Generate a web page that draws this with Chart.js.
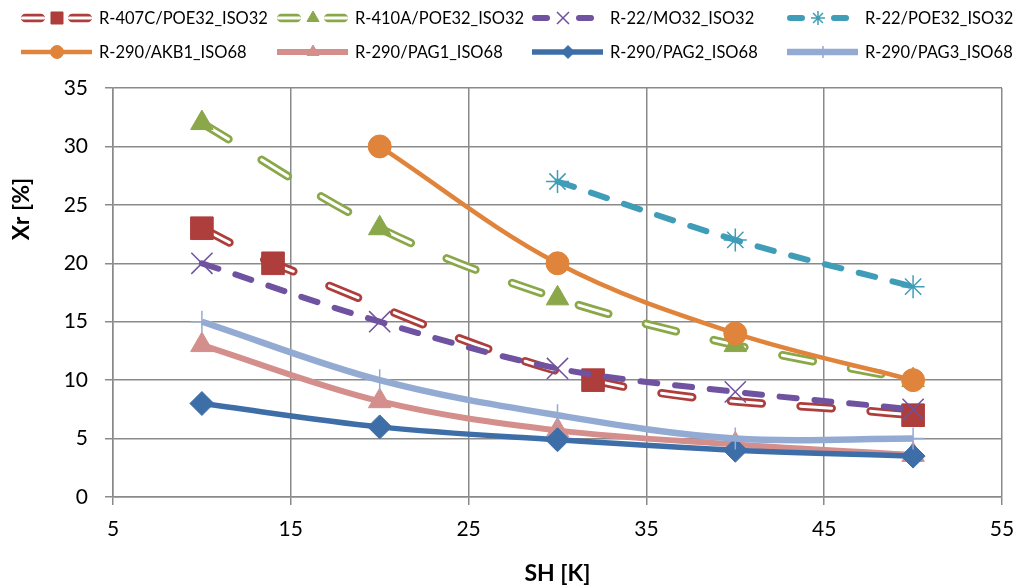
<!DOCTYPE html>
<html>
<head>
<meta charset="utf-8">
<script src="https://cdn.jsdelivr.net/npm/chart.js@4/dist/chart.umd.min.js"></script>
<style>
html,body{margin:0;padding:0;background:#ffffff;}
#wrap{width:1019px;height:588px;position:relative;}
</style>
</head>
<body>
<div id="wrap"><canvas id="c" width="1019" height="588"></canvas></div>
<script>
// ---- data ----
const seriesNames = [
  'R-407C/POE32_ISO32', 'R-410A/POE32_ISO32', 'R-22/MO32_ISO32', 'R-22/POE32_ISO32',
  'R-290/AKB1_ISO68', 'R-290/PAG1_ISO68', 'R-290/PAG2_ISO68', 'R-290/PAG3_ISO68'
];
const x407C = [10, 14, 32, 50];
const y407C = [23, 20, 10, 7];
const x410A = [10, 20, 30, 40, 50];
const y410A = [32, 23, 17, 13, 10];
const xMO32 = [10, 20, 30, 40, 50];
const yMO32 = [20, 15, 11, 9, 7.5];
const xPOE32 = [30, 40, 50];
const yPOE32 = [27, 22, 18];
const xAKB1 = [20, 30, 40, 50];
const yAKB1 = [30, 20, 14, 10];
const xR290 = [10, 20, 30, 40, 50];
const yPAG1 = [13, 8.2, 5.7, 4.5, 3.6];
const yPAG2 = [8, 6, 4.9, 4, 3.5];
const yPAG3 = [15, 10, 7, 5, 5];
const xTicks = [5, 15, 25, 35, 45, 55];
const yTicks = [0, 5, 10, 15, 20, 25, 30, 35];
const xTitle = 'SH [K]';
const yTitle = 'Xr [%]';

const seriesX = [x407C, x410A, xMO32, xPOE32, xAKB1, xR290, xR290, xR290];
const seriesY = [y407C, y410A, yMO32, yPOE32, yAKB1, yPAG1, yPAG2, yPAG3];

// ---- styles ----
const styles = [
  {color:'#AD3E3C', kind:'compound', width:8.5, inner:3, marker:'rect', r:16, lr:8.5, bw:1},
  {color:'#8AA84A', kind:'compound', width:8.5, inner:3, marker:'triangle', r:13, lr:7, bw:1},
  {color:'#6F52A0', kind:'dash', width:6, marker:'crossRot', r:15, lr:8.5, bw:1.5},
  {color:'#3F9DB8', kind:'dash', width:6, marker:'star', r:11.5, lr:7, bw:1.5},
  {color:'#E0843C', kind:'solid', width:4.5, marker:'circle', r:11.5, lr:6.5, bw:1},
  {color:'#D48E8C', kind:'solid', width:6, marker:'triangle', r:13, lr:7, bw:1},
  {color:'#3E6EA8', kind:'solid', width:5.5, marker:'rectRot', r:12, lr:6.5, bw:1},
  {color:'#93ABD3', kind:'solid', width:6.5, marker:'cross', r:11, lr:6, bw:1.5}
];
const gridColor = '#8a8a8a';
const FONT = 'Lato';

function pts(xs, ys){ return xs.map((x, j) => ({x: x, y: ys[j]})); }

const datasets = [];
styles.forEach((s, i) => {
  const data = pts(seriesX[i], seriesY[i]);
  const base = 100 - i * 4;
  const dash = s.kind === 'compound' ? [31, 39] : (s.kind === 'dash' ? [17, 18] : []);
  datasets.push({
    label: seriesNames[i], data: data, showLine: true,
    borderColor: s.color, borderWidth: s.width, borderDash: dash,
    borderCapStyle: s.kind === 'solid' ? 'butt' : 'round', borderJoinStyle: 'round',
    tension: 0.35, pointRadius: 0, pointHoverRadius: 0, order: base + 3, fill: false
  });
  if (s.kind === 'compound') {
    datasets.push({
      label: seriesNames[i] + ' inner', data: data, showLine: true,
      borderColor: '#ffffff', borderWidth: s.inner, borderDash: dash,
      borderCapStyle: 'round', borderJoinStyle: 'round',
      tension: 0.35, pointRadius: 0, pointHoverRadius: 0, order: base + 2, fill: false
    });
  }
  datasets.push({
    label: seriesNames[i] + ' markers', data: data, showLine: false,
    pointStyle: s.marker, pointRadius: s.r, pointHoverRadius: s.r,
    pointBackgroundColor: s.color, pointBorderColor: s.color, pointBorderWidth: s.bw,
    order: base
  });
});

// ---- custom legend + y title ----
const legendPlugin = {
  id: 'excelLegend',
  afterDraw(chart){
    const ctx = chart.ctx;
    const cols = [21, 277, 532, 787];
    const rows = [18, 52];
    styles.forEach((s, i) => {
      const x0 = cols[i % 4];
      const y = rows[Math.floor(i / 4)];
      let segs, mx;
      if (s.kind === 'compound') { segs = [[0, 24], [47, 71]]; mx = 36; }
      else if (s.kind === 'dash') { segs = [[0, 18], [44, 62]]; mx = 31; }
      else { segs = [[0, 71]]; mx = 36; }
      ctx.save();
      ctx.lineCap = s.kind === 'solid' ? 'butt' : 'round';
      const drawSegs = (w, col) => {
        ctx.strokeStyle = col; ctx.lineWidth = w;
        segs.forEach(sg => {
          const off = ctx.lineCap === 'round' ? w / 2 : 0;
          ctx.beginPath();
          ctx.moveTo(x0 + sg[0] + off, y);
          ctx.lineTo(x0 + sg[1] - off, y);
          ctx.stroke();
        });
      };
      drawSegs(s.width, s.color);
      if (s.kind === 'compound') drawSegs(s.inner, '#ffffff');
      ctx.fillStyle = s.color; ctx.strokeStyle = s.color; ctx.lineWidth = s.bw;
      ctx.lineCap = 'butt';
      Chart.helpers.drawPoint(ctx, {pointStyle: s.marker, radius: s.lr, borderWidth: s.bw, rotation: 0}, x0 + mx, y);
      ctx.fillStyle = '#000000';
      ctx.font = '16.5px ' + FONT;
      ctx.textBaseline = 'middle';
      ctx.textAlign = 'left';
      ctx.fillText(seriesNames[i], x0 + 78, y + 1);
      ctx.restore();
    });
    ctx.save();
    ctx.translate(22, 209);
    ctx.rotate(-Math.PI / 2);
    ctx.font = 'bold 23px ' + FONT;
    ctx.fillStyle = '#000000';
    ctx.textAlign = 'center';
    ctx.textBaseline = 'middle';
    ctx.fillText(yTitle, 0, 0);
    ctx.restore();
  }
};

Chart.defaults.font.family = FONT;
new Chart(document.getElementById('c'), {
  type: 'line',
  data: { datasets: datasets },
  options: {
    responsive: false, animation: false, devicePixelRatio: 1,
    layout: { padding: { top: 88, right: 16, left: 0, bottom: 0 } },
    plugins: { legend: { display: false }, tooltip: { enabled: false }, title: { display: false } },
    scales: {
      x: {
        type: 'linear', min: 5, max: 55,
        afterFit(s){ s.height = 91; s.paddingLeft = 0; s.paddingRight = 0; },
        afterBuildTicks(s){ s.ticks = xTicks.map(v => ({value: v})); },
        ticks: { color: '#000', font: { size: 21 }, padding: 12, maxRotation: 0 },
        grid: { color: gridColor, lineWidth: 1.5, tickLength: 8, tickColor: gridColor },
        border: { color: gridColor, width: 1.5 },
        title: { display: true, text: xTitle, color: '#000', font: { size: 23, weight: 'bold', lineHeight: 1.1 }, padding: { top: 0, bottom: 2 } }
      },
      y: {
        type: 'linear', min: 0, max: 35,
        afterFit(s){ s.width = 113; s.paddingTop = 0; s.paddingBottom = 0; },
        afterBuildTicks(s){ s.ticks = yTicks.map(v => ({value: v})); },
        ticks: { color: '#000', font: { size: 21 }, padding: 17 },
        grid: { color: gridColor, lineWidth: 1.5, tickLength: 8, tickColor: gridColor },
        border: { color: gridColor, width: 1.5 }
      }
    }
  },
  plugins: [legendPlugin]
});
</script>
</body>
</html>
